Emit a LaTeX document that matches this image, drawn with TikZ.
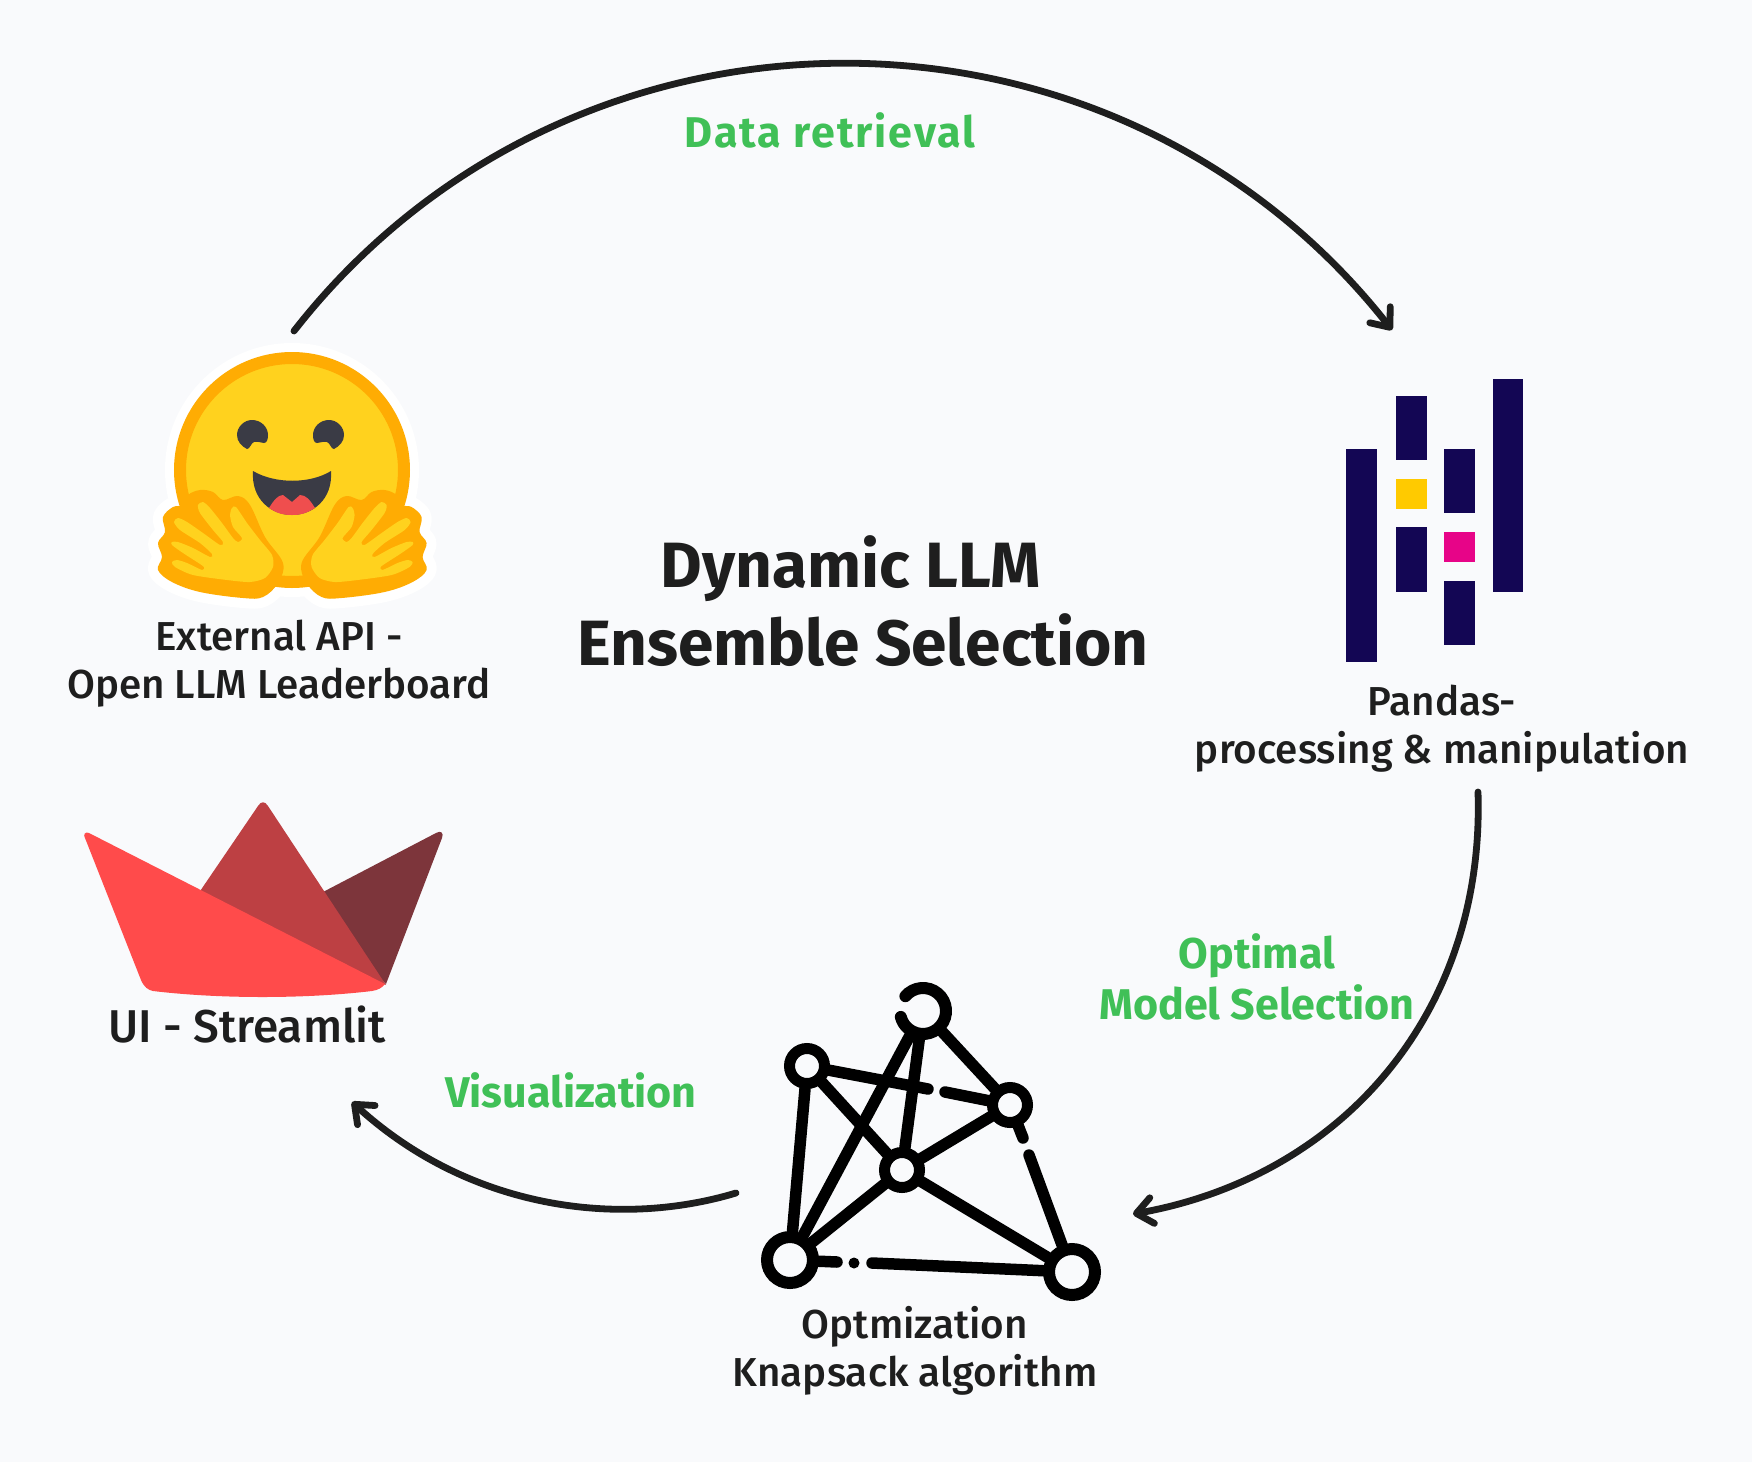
\documentclass[tikz,border=0pt]{standalone}
\usepackage{fontspec}
\setmainfont{Fira Sans}
\newfontfamily\labelfont{Fira Sans Medium}
\usetikzlibrary{arrows.meta}
\definecolor{paper}{HTML}{F9FAFC}
\definecolor{ink}{HTML}{1E1E1E}
\definecolor{leaf}{HTML}{40C057}
\definecolor{hugface}{HTML}{FFD21E}
\definecolor{hugrim}{HTML}{FFAC03}
\definecolor{hugdark}{HTML}{3A3B45}
\definecolor{hugred}{HTML}{EF4E4E}
\definecolor{boatred}{HTML}{FF4B4B}
\definecolor{boatmid}{HTML}{BD4043}
\definecolor{boatdark}{HTML}{7D353B}
\definecolor{pdnavy}{HTML}{130654}
\definecolor{pdyellow}{HTML}{FFCA00}
\definecolor{pdpink}{HTML}{E70488}

\tikzstyle{caption}=[text=ink,align=center,inner sep=0pt,font=\labelfont\fontsize{20.2}{24}\selectfont]
\tikzstyle{stage}=[text=leaf,align=center,inner sep=0pt,font=\fontsize{21.5}{25.5}\selectfont\bfseries]
\tikzstyle{title}=[text=ink,inner sep=0pt,font=\fontsize{32}{39}\selectfont\bfseries]
\tikzstyle{flow}=[draw=ink,line width=3.4pt,line cap=round,->]
\tikzstyle{bignode}=[circle,draw,line width=6pt,minimum size=23pt,inner sep=0pt]
\tikzstyle{smallnode}=[circle,draw,line width=5.5pt,minimum size=17.5pt,inner sep=0pt]
\tikzstyle{link}=[draw,line width=5.75pt,line cap=round,-]

\newcommand{\handrim}{plot[smooth cycle,tension=.6] coordinates {(283,563) (265,537) (250,505) (238,496) (223,500) (213,492) (200,490) (188,495) (183,505) (173,507) (163,517) (165,532) (158,543) (162,557) (158,570) (172,582) (200,592) (243,598) (263,597) (278,583)}}
\newcommand{\handpalm}{plot[smooth cycle,tension=.45] coordinates {(236,507) (247,523) (260,540) (272,555) (273,567) (265,578) (250,582) (227,580) (193,575) (175,567) (172,562) (177,560) (187,563) (202,570) (204,567) (197,562) (183,553) (172,545) (172,542) (178,542) (193,548) (210,557) (212,554) (200,543) (180,530) (174,522) (178,518) (187,522) (203,533) (220,545) (223,542) (213,530) (200,513) (198,505) (203,502) (210,508) (222,523) (233,538) (238,542) (242,538) (233,527) (230,515) (232,508)}}
\newcommand{\hugeye}{(247,449) .. controls (241,446) and (237,441) .. (237,435) .. controls (237,427) and (244,420) .. (252,420) .. controls (261,420) and (268,427) .. (268,435) .. controls (268,439) and (267,443) .. (264,443) .. controls (261,443) and (258,441) .. (254,442) .. controls (251,443) and (250,449) .. (247,449) -- cycle}

\begin{document}
\begin{tikzpicture}[x=.5pt,y=-.5pt,>={Straight Barb[round,length=8pt,width=13pt]}]
	\useasboundingbox (0,0) rectangle (1752,1462);
	\fill[paper] (0,0) rectangle (1752,1462);

	% hugging face logo
	\fill[white] (292,470) circle[radius=127];
	\draw[white,line width=10pt,line join=round] \handrim;
	\begin{scope}[shift={(584.6,0)},xscale=-1]
		\draw[white,line width=10pt,line join=round] \handrim;
	\end{scope}
	\draw[hugrim,fill=hugface,line width=6pt] (292,470) circle[radius=112];
	\fill[hugdark] \hugeye;
	\fill[hugdark,shift={(581,0)},xscale=-1] \hugeye;
	\fill[hugdark] (253,471) .. controls (275,484) and (310,484) .. (331,471) .. controls (333,500) and (312,515) .. (292,515) .. controls (272,515) and (251,500) .. (253,471) -- cycle;
	\fill[hugred] (269,508) .. controls (274,500) and (278,495) .. (283,495) -- (292,502) -- (300,495) .. controls (306,495) and (310,500) .. (315,508) .. controls (305,514) and (300,515) .. (292,515) .. controls (284,515) and (278,514) .. (269,508) -- cycle;
	\fill[hugrim] \handrim;
	\fill[hugface] \handpalm;
	\begin{scope}[shift={(584.6,0)},xscale=-1]
		\fill[hugrim] \handrim;
		\fill[hugface] \handpalm;
	\end{scope}

	% pandas logo
	\fill[pdnavy] (1346,449) rectangle (1377,662);
	\fill[pdnavy] (1396,396) rectangle (1427,460);
	\fill[pdyellow] (1396,479) rectangle (1427,509);
	\fill[pdnavy] (1396,527) rectangle (1427,592);
	\fill[pdnavy] (1444,449) rectangle (1475,513);
	\fill[pdpink] (1444,532) rectangle (1475,562);
	\fill[pdnavy] (1444,581) rectangle (1475,645);
	\fill[pdnavy] (1493,379) rectangle (1523,592);

	% streamlit logo
	\fill[boatdark] (300,904) -- (436,833) .. controls (441,830) and (444,833) .. (442,838) -- (386,984) -- cycle;
	\fill[boatmid] (258,806) .. controls (261,801) and (265,801) .. (268,806) -- (386,985) -- (190.6,905) -- cycle;
	\fill[boatred] (89,833) .. controls (85,831) and (83,835) .. (85,838) -- (141,980) .. controls (144,987) and (148,990) .. (153,991) .. controls (220,999) and (305,999) .. (372,991) .. controls (378,990) and (382,988) .. (385,984) -- cycle;

	% knapsack graph
	\node [bignode,draw=none] (ntop) at (923,1011) {};
	\node [smallnode] (nleft) at (807,1066) {};
	\node [smallnode] (nright) at (1010,1105) {};
	\node [smallnode] (nmid) at (902,1170) {};
	\node [bignode] (nbl) at (790,1260) {};
	\node [bignode] (nbr) at (1072,1272) {};
	\coordinate (gapa) at (928,1089);
	\coordinate (gapb) at (945,1092);
	\coordinate (gapc) at (1023,1138);
	\coordinate (gapd) at (1029,1155);
	\coordinate (gape) at (837,1262);
	\coordinate (gapf) at (872,1263);
	\fill (854,1263) circle[radius=5.5];
	\draw[line width=6pt,line cap=round] (ntop) ++(-17.6,-14.8) arc[start angle=-140,end angle=165,radius=23];

	\draw (nleft) edge[link] (nbl);
	\draw (nleft) edge[link] (nmid);
	\draw (nleft) edge[link] (gapa);
	\draw (gapb) edge[link] (nright);
	\draw (ntop) edge[link] (nbl);
	\draw (ntop) edge[link] (nmid);
	\draw (ntop) edge[link] (nright);
	\draw (nright) edge[link] (nmid);
	\draw (nright) edge[link] (gapc);
	\draw (gapd) edge[link] (nbr);
	\draw (nmid) edge[link] (nbl);
	\draw (nmid) edge[link] (nbr);
	\draw (nbl) edge[link] (gape);
	\draw (gapf) edge[link] (nbr);

	% texts
	\node [title] (title1) at (851,569) {Dynamic LLM};
	\node [title] (title2) at (863,640) {Ensemble Selection};
	\node [caption] (apitext) at (279,664) {External API -\\Open LLM Leaderboard};
	\node [caption] (pandastext) at (1442,729) {Pandas-\\processing \& manipulation};
	\node [caption] (uitext) at (247,1025) {\fontsize{23}{24}\selectfont UI - Streamlit};
	\node [caption] (opttext) at (915,1351) {Optmization\\Knapsack algorithm};
	\node [stage] (datatext) at (830,130) {\addfontfeatures{LetterSpace=4.5}Data retrieval};
	\node [stage] (seltext) at (1257,977) {Optimal\\Model Selection};
	\node [stage] (vistext) at (571,1090) {Visualization};

	% arrows
	\coordinate (apiout) at (294,331);
	\coordinate (pandasin) at (1392,330);
	\coordinate (pandasout) at (1478,792);
	\coordinate (optin) at (1133,1214);
	\coordinate (optout) at (736,1193);
	\coordinate (uiin) at (352,1102);
	\draw[flow] (apiout) .. controls (572,-25) and (1113,-25) .. (pandasin);
	\draw[flow] (pandasout) .. controls (1485,1010) and (1345,1176) .. (optin);
	\draw[flow] (optout) .. controls (620,1228) and (470,1210) .. (uiin);
\end{tikzpicture}
\end{document}
